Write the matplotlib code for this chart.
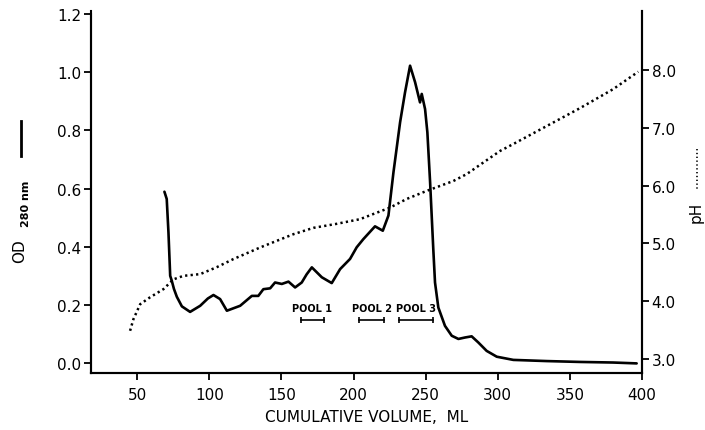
import matplotlib
matplotlib.use("Agg")
import matplotlib.pyplot as plt
from matplotlib.lines import Line2D

# OD 280 nm profile
od_vol = [68.9, 70.5, 71.7, 72.9, 74.0, 75.5, 77.5, 81.0, 86.7, 93.7, 99.0, 102.9, 107.5, 112.2, 121.4, 129.5, 134.0,
          137.5, 142.2, 145.6, 150.3, 154.9, 159.5, 164.1, 167.5, 171.1, 178.0, 184.9, 190.7, 197.6,
          202.2, 206.8, 214.9, 220.3, 224.2, 227.7, 232.3, 235.7, 239.2, 242.7, 246.1, 247.3, 249.6,
          251.2, 253.1, 255.3, 256.5, 258.8, 263.4, 268.1, 272.7, 277.3, 281.9, 286.5, 292.3, 299.3,
          310.8, 333.9, 357.0, 380.0, 396.3]
od_val = [0.589, 0.564, 0.449, 0.300, 0.283, 0.255, 0.228, 0.195, 0.176, 0.197, 0.222, 0.234, 0.22, 0.18, 0.197, 0.231, 0.231,
          0.254, 0.257, 0.277, 0.272, 0.28, 0.26, 0.277, 0.305, 0.329, 0.295, 0.275, 0.323, 0.358,
          0.398, 0.426, 0.47, 0.455, 0.507, 0.656, 0.828, 0.93, 1.022, 0.965, 0.896, 0.925, 0.873,
          0.793, 0.621, 0.392, 0.277, 0.191, 0.128, 0.094, 0.083, 0.088, 0.092, 0.071, 0.042, 0.022,
          0.011, 0.007, 0.004, 0.002, -0.001]

# pH gradient
ph_vol = [45.1, 47.4, 52.1, 59.0, 68.2, 75.2, 82.1, 93.7, 105.2, 116.7, 135.2, 158.3, 172.2, 188.4,
          204.5, 213.8, 225.3, 236.9, 250.8, 269.2, 278.5, 290.0, 301.6, 310.8, 333.9, 357.0, 380.1, 397.4]
ph_val = [3.49, 3.69, 3.95, 4.07, 4.21, 4.38, 4.44, 4.47, 4.59, 4.73, 4.93, 5.16, 5.27, 5.34,
          5.42, 5.51, 5.62, 5.77, 5.91, 6.08, 6.2, 6.4, 6.6, 6.72, 7.03, 7.34, 7.67, 7.97]

# pools
pool_names = ["POOL 1", "POOL 2", "POOL 3"]
pool_start = [163.4, 203.8, 231.6]
pool_end = [179.6, 221.2, 255.1]
pool_bar_od = 0.149
pool_text_od = 0.19

x_ticks = [50, 100, 150, 200, 250, 300, 350, 400]
od_ticks = [0.0, 0.2, 0.4, 0.6, 0.8, 1.0, 1.2]
ph_ticks = [3.0, 4.0, 5.0, 6.0, 7.0, 8.0]

W, H = 705, 431
fig = plt.figure(figsize=(W / 100, H / 100), dpi=100)
ax = fig.add_axes([91 / W, 1 - 374 / H, (642 - 91) / W, (374 - 12) / H])
ax2 = ax.twinx()

ax.plot(od_vol, od_val, color="black", lw=1.9, solid_joinstyle="round", solid_capstyle="round")
ax2.plot(ph_vol, ph_val, color="black", lw=1.8, linestyle=(0, (0.9, 1.3)))

for name, s, e in zip(pool_names, pool_start, pool_end):
    ax.plot([s, e], [pool_bar_od, pool_bar_od], color="black", lw=1.2,
            marker="|", markersize=5, markeredgewidth=1.2)
    ax.text((s + e) / 2, pool_text_od, name, ha="center", va="center",
            fontsize=7, fontweight="bold")

ax.set_xlim(18, 400)
ax.set_ylim(-0.034, 1.21)
ax2.set_ylim(2.76, 9.02)
ax.set_xticks(x_ticks)
ax.set_xticklabels([str(v) for v in x_ticks], fontsize=11)
ax.set_yticks(od_ticks)
ax.set_yticklabels([f"{v:.1f}" for v in od_ticks], fontsize=11)
ax2.set_yticks(ph_ticks)
ax2.set_yticklabels([f"{v:.1f}" for v in ph_ticks], fontsize=11)

for a in (ax, ax2):
    a.spines["top"].set_visible(False)
    for s in ("left", "right", "bottom"):
        a.spines[s].set_linewidth(1.5)
    a.tick_params(width=1.3, length=5, pad=2)
ax.tick_params(axis="x", pad=5)
ax.spines["left"].set_bounds(-0.034, 1.2)

ax.set_xlabel("CUMULATIVE VOLUME,  ML", fontsize=11, labelpad=5)

# left axis label with line key
fig.text(20 / W, 1 - 251 / H, "OD", rotation=90, ha="center", va="center", fontsize=11)
fig.text(26 / W, 1 - 204 / H, "280 nm", rotation=90, ha="center", va="center",
         fontsize=8, fontweight="bold")
fig.add_artist(Line2D([21 / W, 21 / W], [1 - 122 / H, 1 - 157 / H], color="black", lw=2))

# right axis label with dotted key
fig.text(696 / W, 1 - 212 / H, "pH", rotation=90, ha="center", va="center", fontsize=11)
fig.add_artist(Line2D([697 / W, 697 / W], [1 - 150 / H, 1 - 190 / H], color="black", lw=1.2,
                      linestyle=(0, (0.8, 1.5))))

fig.savefig("out.png", dpi=100)
